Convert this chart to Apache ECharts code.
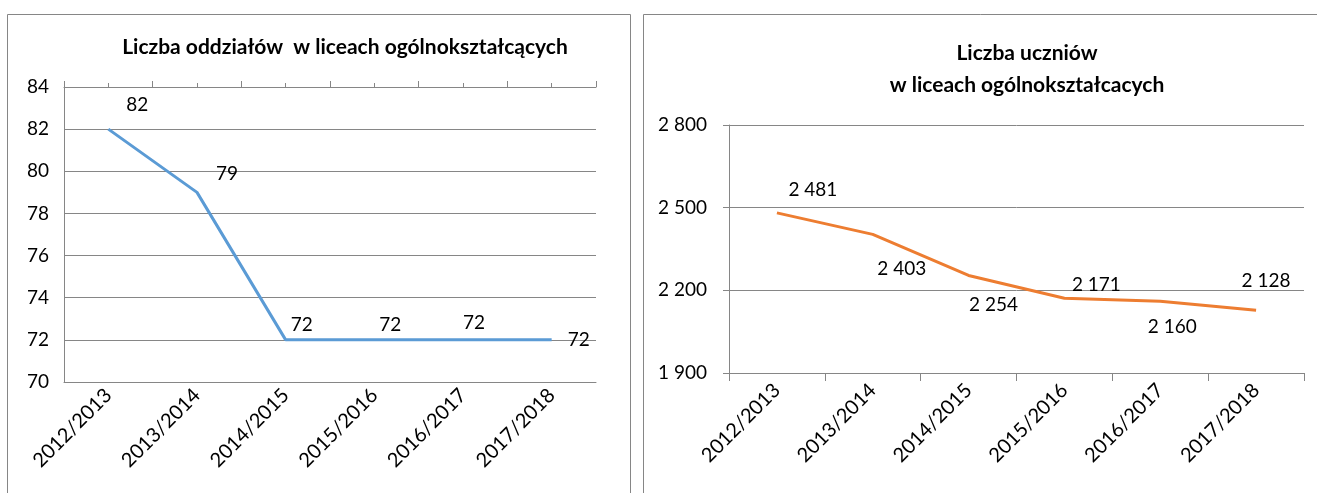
<!DOCTYPE html>
<html>
<head>
<meta charset="utf-8">
<script src="https://cdn.jsdelivr.net/npm/echarts@6/dist/echarts.min.js"></script>
<style>
  html, body { margin: 0; padding: 0; background: #fff; }
  #main { width: 1317px; height: 493px; }
</style>
</head>
<body>
<div id="main"></div>
<script>
// lata szkolne
var years = ['2012/2013', '2013/2014', '2014/2015', '2015/2016', '2016/2017', '2017/2018'];
// liczba oddzialow
var oddzialy = [82, 79, 72, 72, 72, 72];
// liczba uczniow
var uczniowie = [2481, 2403, 2254, 2171, 2160, 2128];

// przesuniecia etykiet (jak w oryginale z Excela)
var offLeft = [[29, -24], [30, -18], [16, -15], [16, -15], [11, -17], [27, 0]];
var offRight = [[36, -23], [29, 34], [25, 29], [32, -13], [12, 26], [10, -29]];

var FONT = 'Lato';
var chart = echarts.init(document.getElementById('main'));

function spaced(v) {
  return String(v).replace(/\B(?=(\d{3})+(?!\d))/g, ' ');
}

function withLabels(vals, offs) {
  return vals.map(function (v, i) {
    return { value: v, label: { offset: offs[i] } };
  });
}

var GREY = '#868686';
var gridLine = { show: true, lineStyle: { color: GREY, width: 1 } };
var axisLine = { show: true, onZero: false, lineStyle: { color: GREY, width: 1 } };
var noSplit = { show: false };

var option = {
  animation: false,
  textStyle: { fontFamily: FONT },
  title: [
    {
      text: 'Liczba oddziałów  w liceach ogólnokształcących',
      left: 340, top: 32, textAlign: 'center',
      textStyle: { fontFamily: FONT, fontSize: 21, fontWeight: 'bold', color: '#000' }
    },
    {
      text: 'Liczba uczniów\nw liceach ogólnokształcacych',
      left: 1022, top: 32, textAlign: 'center',
      textStyle: { fontFamily: FONT, fontSize: 21, fontWeight: 'bold', color: '#000', lineHeight: 32 }
    }
  ],
  graphic: [
    { type: 'rect', shape: { x: 7.5, y: 14.5, width: 623, height: 490 }, style: { fill: 'none', stroke: GREY, lineWidth: 1 } },
    { type: 'rect', shape: { x: 643.5, y: 14.5, width: 690, height: 490 }, style: { fill: 'none', stroke: GREY, lineWidth: 1 } }
  ],
  grid: [
    { left: 64, top: 87, width: 532, height: 295 },
    { left: 729, top: 125, width: 575, height: 248 }
  ],
  xAxis: [
    {
      type: 'category', gridIndex: 0, data: years, splitLine: noSplit,
      axisLine: axisLine, axisTick: { show: false },
      axisLabel: { rotate: 45, fontSize: 20, color: '#000', margin: 10, fontFamily: FONT }
    },
    {
      type: 'category', gridIndex: 0, data: years, position: 'top', offset: 0, splitLine: noSplit,
      axisLine: axisLine, axisTick: { show: true, inside: false, length: 6, lineStyle: { color: GREY } },
      axisLabel: { show: false }
    },
    {
      type: 'category', gridIndex: 0, data: years, position: 'top', offset: 0, splitLine: noSplit,
      axisLine: { show: false }, axisTick: { show: true, inside: false, alignWithLabel: true, length: 4, lineStyle: { color: GREY } },
      axisLabel: { show: false }
    },
    {
      type: 'category', gridIndex: 1, data: years, splitLine: noSplit,
      axisLine: axisLine, axisTick: { show: true, length: 8, lineStyle: { color: GREY } },
      axisLabel: { rotate: 45, fontSize: 20, color: '#000', margin: 14, fontFamily: FONT }
    }
  ],
  yAxis: [
    {
      type: 'value', gridIndex: 0, min: 70, max: 84, interval: 2,
      axisLine: axisLine, axisTick: { show: false }, splitLine: gridLine,
      axisLabel: { fontSize: 19, color: '#000', margin: 15, fontFamily: FONT }
    },
    {
      type: 'value', gridIndex: 1, min: 1900, max: 2800, interval: 300,
      axisLine: axisLine, axisTick: { show: true, length: 6, lineStyle: { color: GREY } }, splitLine: gridLine,
      axisLabel: { fontSize: 19, color: '#000', margin: 22, fontFamily: FONT, formatter: spaced }
    }
  ],
  series: [
    {
      name: 'oddziały', type: 'line', xAxisIndex: 0, yAxisIndex: 0,
      data: withLabels(oddzialy, offLeft),
      symbol: 'circle', symbolSize: 2, showSymbol: true,
      itemStyle: { color: 'rgba(0,0,0,0)', borderWidth: 0 },
      lineStyle: { color: '#5b9bd5', width: 3 },
      label: { show: true, position: 'inside', fontSize: 19, color: '#000', fontFamily: FONT }
    },
    {
      name: 'uczniowie', type: 'line', xAxisIndex: 3, yAxisIndex: 1,
      data: withLabels(uczniowie, offRight),
      symbol: 'circle', symbolSize: 2, showSymbol: true,
      itemStyle: { color: 'rgba(0,0,0,0)', borderWidth: 0 },
      lineStyle: { color: '#ed7d31', width: 3 },
      label: { show: true, position: 'inside', fontSize: 19, color: '#000', fontFamily: FONT,
        formatter: function (p) { return spaced(p.value); } }
    }
  ]
};

chart.setOption(option);
</script>
</body>
</html>
